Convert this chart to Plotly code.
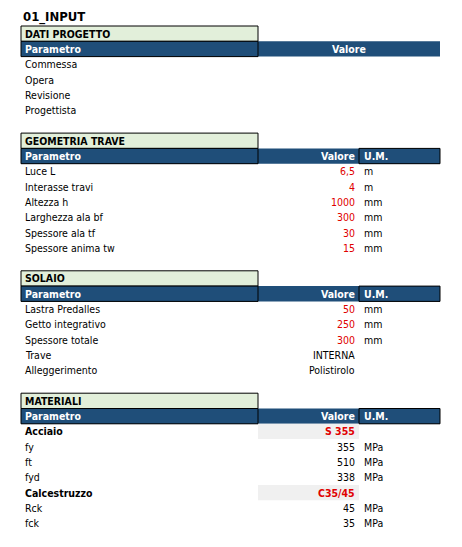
import plotly.graph_objects as go

# sheet content
title = "01_INPUT"
section_names = ["DATI PROGETTO", "GEOMETRIA TRAVE", "SOLAIO", "MATERIALI"]
section_start_rows = [0, 7, 16, 24]

dati_labels = ["Commessa", "Opera", "Revisione", "Progettista"]

geo_labels = ["Luce L", "Interasse travi", "Altezza h", "Larghezza ala bf",
              "Spessore ala tf", "Spessore anima tw"]
geo_values = ["6,5", "4", "1000", "300", "30", "15"]
geo_units = ["m", "m", "mm", "mm", "mm", "mm"]

sol_labels = ["Lastra Predalles", "Getto integrativo", "Spessore totale", "Trave", "Alleggerimento"]
sol_values = ["50", "250", "300", "INTERNA", "Polistirolo"]
sol_units = ["mm", "mm", "mm", "", ""]
sol_red = [True, True, True, False, False]

mat_labels = ["Acciaio", "fy", "ft", "fyd", "Calcestruzzo", "Rck", "fck"]
mat_values = ["S 355", "355", "510", "338", "C35/45", "45", "35"]
mat_units = ["", "MPa", "MPa", "MPa", "", "MPa", "MPa"]
mat_is_class = [True, False, False, False, True, False, False]

Y0, RH = 26, 15.3
XL, XM, XU, XR = 21, 258, 359, 440
BLUE, GREEN, RED, GREY = "#1F4E79", "#E2EFDA", "#E00000", "#F0F0F0"
FONT = "Liberation Sans Narrow, DejaVu Sans Condensed, Arial"
PAGE_OFFSET = 8  # default body margin of the page

shapes, ann = [], []


def ytop(r):
    return Y0 + r * RH


def text(x, r, s, anchor="left", color="black", bold=False, size=10.5):
    ann.append(dict(x=x, y=ytop(r) + RH / 2, xref="x", yref="y", text=f"<b>{s}</b>" if bold else s,
                    showarrow=False, xanchor=anchor, yanchor="middle",
                    font=dict(family=FONT, size=size, color=color)))


def rect(x0, x1, r, fill, line=None):
    shapes.append(dict(type="rect", xref="x", yref="y", x0=x0, x1=x1, y0=ytop(r), y1=ytop(r) + RH,
                       fillcolor=fill, line=dict(color=line or fill, width=1 if line else 0),
                       layer="below"))


ann.append(dict(x=XL, y=17, xref="x", yref="y", text=f"<b>{title}</b>", showarrow=False,
                xanchor="left", yanchor="middle", font=dict(family=FONT, size=13, color="black")))

for i, (name, r) in enumerate(zip(section_names, section_start_rows)):
    rect(XL, XM, r, GREEN, "black")
    text(XL + 2, r, name, bold=True)
    rect(XL, XR, r + 1, BLUE)
    rect(XL, XM, r + 1, BLUE, "black")
    text(XL + 2, r + 1, "Parametro", color="white", bold=True)
    if i == 0:
        text((XM + XR) / 2, r + 1, "Valore", anchor="center", color="white", bold=True)
    else:
        rect(XU, XR, r + 1, BLUE, "black")
        text(XU - 2, r + 1, "Valore", anchor="right", color="white", bold=True)
        text(XU + 3, r + 1, "U.M.", color="white", bold=True)

for k, lab in enumerate(dati_labels):
    text(XL + 2, 2 + k, lab)

for k, (lab, v, u) in enumerate(zip(geo_labels, geo_values, geo_units)):
    r = 9 + k
    text(XL + 2, r, lab)
    text(XU - 2, r, v, anchor="right", color=RED)
    text(XU + 3, r, u)

for k, (lab, v, u, red) in enumerate(zip(sol_labels, sol_values, sol_units, sol_red)):
    r = 18 + k
    text(XL + 2, r, lab)
    text(XU - 2, r, v, anchor="right", color=RED if red else "black")
    text(XU + 3, r, u)

for k, (lab, v, u, cls) in enumerate(zip(mat_labels, mat_values, mat_units, mat_is_class)):
    r = 26 + k
    text(XL + 2, r, lab, bold=cls)
    if cls:
        rect(XM, XU, r, GREY)
    text(XU - 2, r, v, anchor="right", color=RED if cls else "black", bold=cls)
    text(XU + 3, r, u)

fig = go.Figure(go.Scatter(x=[0, 462], y=[0, 547], mode="markers", marker=dict(opacity=0),
                           hoverinfo="skip"))
fig.update_layout(width=462, height=547, margin=dict(l=0, r=0, t=0, b=0),
                  plot_bgcolor="white", paper_bgcolor="white", showlegend=False,
                  shapes=shapes, annotations=ann)
fig.update_xaxes(range=[PAGE_OFFSET, 462 + PAGE_OFFSET], visible=False, fixedrange=True)
fig.update_yaxes(range=[547 + PAGE_OFFSET, PAGE_OFFSET], visible=False, fixedrange=True)
fig.write_html("out.html")
